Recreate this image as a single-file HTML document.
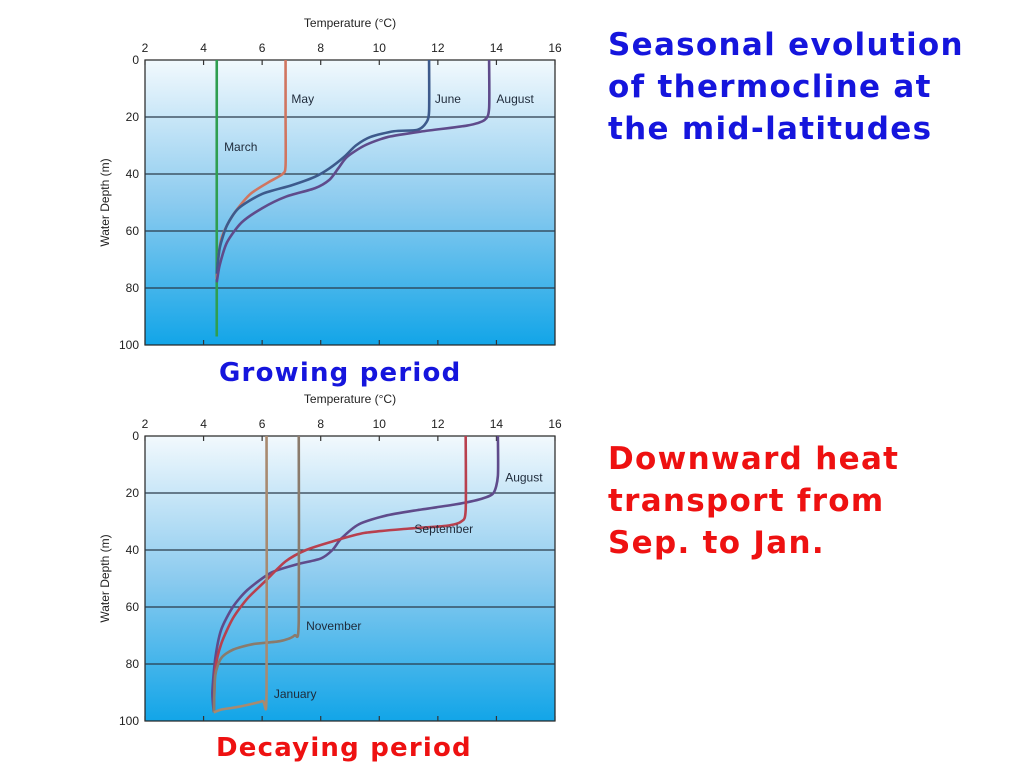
<!DOCTYPE html>
<html><head><meta charset="utf-8"><style>
body{margin:0;width:1024px;height:768px;background:#fff;overflow:hidden;font-family:"Liberation Sans",sans-serif;position:relative}
.t{position:absolute;font-weight:bold;font-family:"DejaVu Sans",sans-serif;font-size:31px;line-height:42px;letter-spacing:1.3px;white-space:nowrap}
</style></head><body>
<div class="t" style="left:608px;top:24px;color:#1515dd">Seasonal evolution<br>of thermocline at<br>the mid-latitudes</div>
<div class="t" style="left:608px;top:438px;color:#ee1111">Downward heat<br>transport from<br>Sep. to Jan.</div>
<div class="t" style="left:219px;top:352px;font-size:26px;letter-spacing:1.2px;color:#1515dd">Growing period</div>
<div class="t" style="left:216px;top:727px;font-size:26px;letter-spacing:1.2px;color:#ee1111">Decaying period</div>
<svg id="svg" width="1024" height="768" style="position:absolute;left:0;top:0">
<defs><linearGradient id="bg" x1="0" y1="0" x2="0" y2="1"><stop offset="0" stop-color="#f2f9fd"/><stop offset="0.5" stop-color="#8ccbef"/><stop offset="1" stop-color="#12a5e8"/></linearGradient></defs>
</svg>
<script>
const xTicks=[2,4,6,8,10,12,14,16];
const yTicks=[0,20,40,60,80,100];
const topNames=["March","May","June","August"];
const march=[[4.45,0],[4.45,97]];
const may=[[6.8,0],[6.8,20],[6.8,37],[6.7,40],[6.2,43],[5.6,47],[5.1,53],[4.8,58],[4.6,63],[4.5,70],[4.45,77]];
const june=[[11.7,0],[11.7,18],[11.6,22],[11.3,24.5],[10.5,25],[9.7,27],[9.2,30],[8.8,34],[8.3,38],[7.8,41],[7.0,44],[6.0,47],[5.2,52],[4.8,58],[4.55,66],[4.45,75]];
const augTop=[[13.75,0],[13.75,17],[13.6,21],[13.0,23],[11.5,25],[10.3,27],[9.5,30],[8.9,34],[8.6,38],[8.3,42],[7.8,45],[6.8,48],[6.0,52],[5.3,57],[4.8,64],[4.55,72],[4.45,78]];
const augBot=[[14.05,0],[14.05,14],[13.9,20],[13.5,22],[12.6,24],[11.3,26],[10.2,28],[9.3,31],[8.7,36],[8.4,40],[8.0,43],[7.2,45],[6.3,48],[5.5,54],[5.0,60],[4.6,68],[4.4,78],[4.3,90],[4.35,97]];
const sept=[[12.95,0],[12.95,26],[12.8,30],[12.3,31.5],[11,32.5],[9.5,34],[8.4,37],[7.5,40],[6.8,44],[6.1,51],[5.5,57],[5.0,64],[4.6,73],[4.4,82],[4.35,97]];
const nov=[[7.25,0],[7.25,65],[7.1,70],[6.6,72],[5.7,73],[5.0,75],[4.6,78],[4.4,84],[4.35,97]];
const jan=[[6.15,0],[6.15,90],[6.0,93],[5.2,95],[4.6,96],[4.35,97]];
const svg=document.getElementById('svg');
const NS='http://www.w3.org/2000/svg';
function mk(tag,at){const e=document.createElementNS(NS,tag);for(const k in at)e.setAttribute(k,at[k]);svg.appendChild(e);return e;}
function chart(top,name,series){
  const L=145,R=555,B=top+285;
  const X=t=>L+(t-2)/14*(R-L), Y=d=>top+d/100*(B-top);
  const bg=mk('rect',{x:L,y:top,width:R-L,height:B-top,fill:'url(#bg)',stroke:'#222','stroke-width':1.2});
  
  
  yTicks.forEach(d=>{
    if(d>0&&d<100){const g=mk('line',{x1:L,x2:R,y1:Y(d),y2:Y(d),stroke:'#2a3a4a','stroke-width':1.2});
    
    }
    const t=mk('text',{x:L-6,y:Y(d)+4,'text-anchor':'end','font-size':12,fill:'#222'});t.textContent=d;
    
    
  });
  xTicks.forEach(v=>{
    const t=mk('text',{x:X(v),y:top-8,'text-anchor':'middle','font-size':12,fill:'#222'});t.textContent=v;
    
    
    [top,B].forEach((yy,i)=>{const k=mk('line',{x1:X(v),x2:X(v),y1:yy,y2:i?yy-5:yy+5,stroke:'#333','stroke-width':1.2});
    
    });
  });
  const xt=mk('text',{x:(L+R)/2,y:top-33,'text-anchor':'middle','font-size':12,fill:'#222'});xt.textContent='Temperature (°C)';
  
  
  const yt=mk('text',{x:0,y:0,'text-anchor':'middle','font-size':12,fill:'#222',transform:`translate(109,${(top+B)/2}) rotate(-90)`});yt.textContent='Water Depth (m)';
  
  
  series.forEach(s=>{
    const p=s.data.map(q=>[X(q[0]),Y(q[1])]);
    let d='M'+p[0][0]+','+p[0][1];
    const k=8;
    for(let i=0;i<p.length-1;i++){const p0=p[Math.max(0,i-1)],p1=p[i],p2=p[i+1],p3=p[Math.min(p.length-1,i+2)];
      d+=` C${p1[0]+(p2[0]-p0[0])/k},${p1[1]+(p2[1]-p0[1])/k} ${p2[0]-(p3[0]-p1[0])/k},${p2[1]-(p3[1]-p1[1])/k} ${p2[0]},${p2[1]}`;}
    const path=mk('path',{d,fill:'none',stroke:s.c,'stroke-width':2.6,'stroke-linejoin':'round','stroke-linecap':'butt'});
    
    
    const lb=mk('text',{x:X(s.lx),y:Y(s.ly),'font-size':12,fill:'#1e2a3a'});lb.textContent=s.n;
    
    
  });
}
chart(60,'growing',[
 {n:topNames[0],data:march,c:'#2f9e50',lx:4.7,ly:32},
 {n:topNames[1],data:may,c:'#d07560',lx:7.0,ly:15},
 {n:topNames[2],data:june,c:'#3d5a8c',lx:11.9,ly:15},
 {n:topNames[3],data:augTop,c:'#5f4b8b',lx:14.0,ly:15}]);
chart(436,'decaying',[
 {n:'August',data:augBot,c:'#5f4b8b',lx:14.3,ly:16},
 {n:'September',data:sept,c:'#b8404e',lx:11.2,ly:34},
 {n:'November',data:nov,c:'#8a7b6c',lx:7.5,ly:68},
 {n:'January',data:jan,c:'#a88a70',lx:6.4,ly:92}]);
</script>
</body></html>
